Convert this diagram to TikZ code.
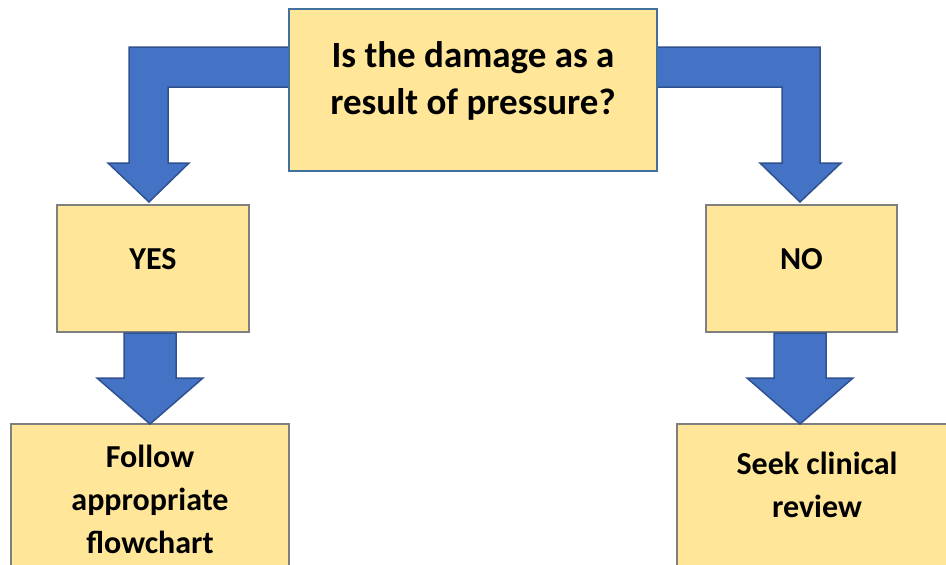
\documentclass[tikz,border=0pt]{standalone}
\usepackage{fontspec}
\setmainfont{Carlito}
\definecolor{boxfill}{HTML}{FFE699}
\definecolor{boxgray}{HTML}{7F7F7F}
\definecolor{boxblue}{HTML}{41719C}
\definecolor{arrfill}{HTML}{4472C4}
\definecolor{arredge}{HTML}{2F528F}
\tikzset{
  box/.style={draw=boxgray, line width=2pt, fill=boxfill, rectangle, inner sep=0pt},
  lbl/.style={font=\bfseries\fontsize{32}{43}\selectfont, align=center, text=black, inner sep=0pt},
  blockarrow/.style={fill=arrfill, draw=arredge, line width=1.5pt, line join=miter}
}
\begin{document}
\begin{tikzpicture}[x=1pt,y=-1pt]
\useasboundingbox (0,0) rectangle (946,565);
\clip (0,0) rectangle (946,565);
% boxes
\node[box, draw=boxblue, minimum width=368pt, minimum height=162pt] (q) at (473,90) {};
\node[lbl, font=\bfseries\fontsize{37}{47}\selectfont] (qt) at (473,81) {Is the damage as a\\result of pressure?};
\node[box, minimum width=192pt, minimum height=127pt] (yes) at (153,268.5) {};
\node[lbl] (yest) at (153,259) {YES};
\node[box, minimum width=191pt, minimum height=127pt] (no) at (801.5,268.5) {};
\node[lbl] (not) at (801.5,259) {NO};
\node[box, minimum width=278pt, minimum height=170pt] (follow) at (150,509) {};
\node[lbl] (followt) at (150,499) {Follow\\appropriate\\flowchart};
\node[box, minimum width=280pt, minimum height=170pt] (seek) at (817,509) {};
\node[lbl] (seekt) at (817,485) {Seek clinical\\review};
% bent arrows
\draw[blockarrow] (q.west |- 0,47) -- (129,47) -- (129,163) -- (108,163) -- (149,202) -- (189,163) -- (168,163) -- (168,87) -- (q.west |- 0,87);
\draw[blockarrow] (q.east |- 0,47) -- (820,47) -- (820,163) -- (841,163) -- (800,202) -- (760,163) -- (782,163) -- (782,87) -- (q.east |- 0,87);
% straight arrows
\draw[blockarrow] (124,333) -- (124,378) -- (97,378) -- (150,424) -- (203,378) -- (176,378) -- (176,333) -- cycle;
\draw[blockarrow] (774,333) -- (774,378) -- (747,378) -- (800,424) -- (853,378) -- (826,378) -- (826,333) -- cycle;
\end{tikzpicture}
\end{document}
